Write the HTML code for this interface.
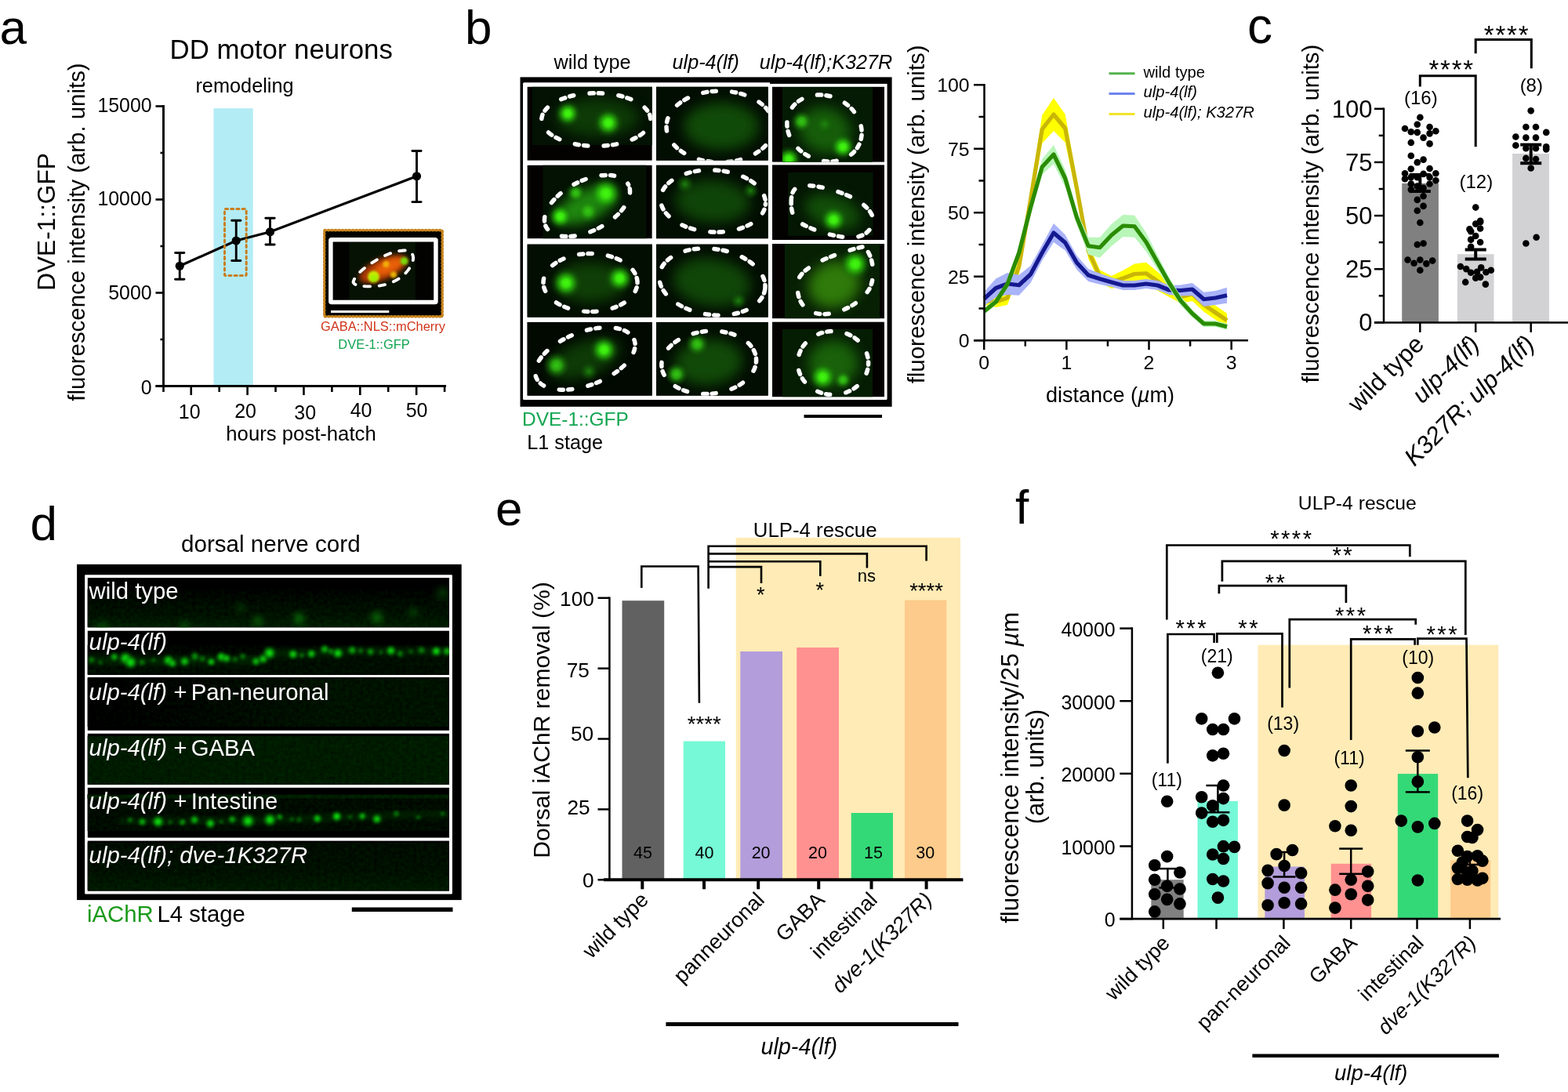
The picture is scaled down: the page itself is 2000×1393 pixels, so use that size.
<!DOCTYPE html>
<html lang="en">
<head>
<meta charset="utf-8">
<title>Figure</title>
<style>
html,body{margin:0;padding:0;background:#fff;}
body{width:2000px;height:1393px;overflow:hidden;}
svg{display:block;font-family:'Liberation Sans', 'DejaVu Sans', sans-serif;}
</style>
</head>
<body>
<svg width="2000" height="1393" viewBox="0 0 2000 1393">
<defs>
<filter id="blur1" x="-50%" y="-50%" width="200%" height="200%" color-interpolation-filters="sRGB"><feGaussianBlur stdDeviation="0.9"/></filter>
<filter id="blur2" x="-50%" y="-50%" width="200%" height="200%" color-interpolation-filters="sRGB"><feGaussianBlur stdDeviation="1.6"/></filter>
<filter id="blur3" x="-50%" y="-50%" width="200%" height="200%" color-interpolation-filters="sRGB"><feGaussianBlur stdDeviation="3"/></filter>
<filter id="blur4" x="-50%" y="-50%" width="200%" height="200%" color-interpolation-filters="sRGB"><feGaussianBlur stdDeviation="4"/></filter>
<filter id="blur8" x="-50%" y="-50%" width="200%" height="200%" color-interpolation-filters="sRGB"><feGaussianBlur stdDeviation="8"/></filter>
<filter id="blur6" x="-50%" y="-50%" width="200%" height="200%" color-interpolation-filters="sRGB"><feGaussianBlur stdDeviation="6"/></filter>
<filter id="noise" x="0" y="0" width="100%" height="100%" color-interpolation-filters="sRGB"><feTurbulence type="fractalNoise" baseFrequency="0.22" numOctaves="2" seed="3" result="n"/><feColorMatrix in="n" type="matrix" values="0 0 0 0 0  0 0.11 0 0 0  0 0 0 0 0  0 0 0 0 1" result="g"/><feComposite in="g" in2="SourceGraphic" operator="in" result="gm"/><feComposite in="SourceGraphic" in2="gm" operator="arithmetic" k1="0" k2="1" k3="1" k4="-0.055"/></filter>
<clipPath id="clipA"><rect x="424.6" y="308.4" width="128.5" height="74.6"/></clipPath>
<radialGradient id="sb"><stop offset="0" stop-color="#44f810"/><stop offset="0.25" stop-color="#3aea0e" stop-opacity="0.97"/><stop offset="0.55" stop-color="#28b80a" stop-opacity="0.6"/><stop offset="0.8" stop-color="#1a8008" stop-opacity="0.2"/><stop offset="1" stop-color="#1a8008" stop-opacity="0"/></radialGradient>
<radialGradient id="sm"><stop offset="0" stop-color="#34c814"/><stop offset="0.35" stop-color="#2cb010" stop-opacity="0.9"/><stop offset="0.65" stop-color="#208a0c" stop-opacity="0.45"/><stop offset="1" stop-color="#156008" stop-opacity="0"/></radialGradient>
<radialGradient id="sd"><stop offset="0" stop-color="#1f8a10" stop-opacity="0.9"/><stop offset="0.5" stop-color="#187008" stop-opacity="0.5"/><stop offset="1" stop-color="#105008" stop-opacity="0"/></radialGradient>


<linearGradient id="gd3" gradientUnits="userSpaceOnUse" x1="150" y1="880" x2="420" y2="930"><stop offset="0" stop-color="#000000"/><stop offset="0.45" stop-color="#000800"/><stop offset="1" stop-color="#001200"/></linearGradient>
<linearGradient id="gd2" x1="0" y1="0" x2="0" y2="1"><stop offset="0" stop-color="#000200"/><stop offset="0.5" stop-color="#000e00"/><stop offset="1" stop-color="#000c00"/></linearGradient>
<radialGradient id="pg"><stop offset="0" stop-color="#10e010"/><stop offset="0.3" stop-color="#0cc80c" stop-opacity="0.95"/><stop offset="0.6" stop-color="#089808" stop-opacity="0.55"/><stop offset="1" stop-color="#046004" stop-opacity="0"/></radialGradient>
<clipPath id="clipD1"><rect x="111.8" y="737.1" width="461.2" height="63.1"/></clipPath>
<clipPath id="clipD2"><rect x="111.8" y="804.7" width="461.2" height="56"/></clipPath>
<clipPath id="clipD5"><rect x="111.8" y="1004.8" width="461.2" height="63.8"/></clipPath>
<linearGradient id="gd1" x1="0" y1="0" x2="0" y2="1"><stop offset="0" stop-color="#000100"/><stop offset="0.3" stop-color="#000a00"/><stop offset="0.7" stop-color="#001200"/><stop offset="1" stop-color="#001e00"/></linearGradient>
<linearGradient id="gd6" x1="0" y1="0" x2="0" y2="1"><stop offset="0" stop-color="#000c00"/><stop offset="0.6" stop-color="#001000"/><stop offset="1" stop-color="#001a00"/></linearGradient>


</defs>
<rect x="0" y="0" width="2000" height="1393" fill="#fff"/>
<g>
<text x="-0.5" y="56" font-size="62">a</text>
<text x="358.7" y="74.8" font-size="34.8" text-anchor="middle">DD motor neurons</text>
<text x="312" y="117.7" font-size="25.3" text-anchor="middle">remodeling</text>
<text transform="translate(70,283) rotate(-90)" font-size="31.6" text-anchor="middle">DVE-1::GFP</text>
<text transform="translate(108,296) rotate(-90)" font-size="29.4" text-anchor="middle">fluorescence intensity (arb. units)</text>
<rect x="272.5" y="138.2" width="50.2" height="354.3" fill="#b3ecf4" />
<line x1="208.5" y1="134.1" x2="208.5" y2="493.9" stroke="#000" stroke-width="2.9" />
<line x1="198.5" y1="492.5" x2="569" y2="492.5" stroke="#000" stroke-width="2.9" />
<line x1="198.5" y1="492.5" x2="208.5" y2="492.5" stroke="#000" stroke-width="2.6" />
<text x="193.6" y="503.3" font-size="24.9" text-anchor="end">0</text>
<line x1="198.5" y1="373.5" x2="208.5" y2="373.5" stroke="#000" stroke-width="2.6" />
<text x="193.6" y="382.3" font-size="24.9" text-anchor="end">5000</text>
<line x1="198.5" y1="254.5" x2="208.5" y2="254.5" stroke="#000" stroke-width="2.6" />
<text x="193.6" y="262" font-size="24.9" text-anchor="end">10000</text>
<line x1="198.5" y1="135.5" x2="208.5" y2="135.5" stroke="#000" stroke-width="2.6" />
<text x="193.6" y="143.3" font-size="24.9" text-anchor="end">15000</text>
<line x1="204.5" y1="433" x2="208.5" y2="433" stroke="#000" stroke-width="2.6" />
<line x1="204.5" y1="314" x2="208.5" y2="314" stroke="#000" stroke-width="2.6" />
<line x1="204.5" y1="195" x2="208.5" y2="195" stroke="#000" stroke-width="2.6" />
<line x1="243.75" y1="492.5" x2="243.75" y2="504" stroke="#000" stroke-width="2.6" />
<text x="241.75" y="534.1" font-size="25" text-anchor="middle">10</text>
<line x1="315.6" y1="492.5" x2="315.6" y2="504" stroke="#000" stroke-width="2.6" />
<text x="313.1" y="532.8" font-size="25" text-anchor="middle">20</text>
<line x1="387.45" y1="492.5" x2="387.45" y2="504" stroke="#000" stroke-width="2.6" />
<text x="389.2" y="534.8" font-size="25" text-anchor="middle">30</text>
<line x1="459.3" y1="492.5" x2="459.3" y2="504" stroke="#000" stroke-width="2.6" />
<text x="460.55" y="532.3" font-size="25" text-anchor="middle">40</text>
<line x1="531.15" y1="492.5" x2="531.15" y2="504" stroke="#000" stroke-width="2.6" />
<text x="531.55" y="532.3" font-size="25" text-anchor="middle">50</text>
<line x1="208.5" y1="492.5" x2="208.5" y2="500" stroke="#000" stroke-width="2.6" />
<line x1="279.68" y1="492.5" x2="279.68" y2="500" stroke="#000" stroke-width="2.6" />
<line x1="351.52" y1="492.5" x2="351.52" y2="500" stroke="#000" stroke-width="2.6" />
<line x1="423.38" y1="492.5" x2="423.38" y2="500" stroke="#000" stroke-width="2.6" />
<line x1="495.22" y1="492.5" x2="495.22" y2="500" stroke="#000" stroke-width="2.6" />
<line x1="567.08" y1="492.5" x2="567.08" y2="500" stroke="#000" stroke-width="2.6" />
<text x="384" y="562.2" font-size="25.7" text-anchor="middle">hours post-hatch</text>
<polyline points="229.25,339.25 301.25,307 344.5,295.75 531.5,224.8" fill="none" stroke="#000" stroke-width="3.2"/>
<line x1="229.25" y1="322.5" x2="229.25" y2="356.25" stroke="#000" stroke-width="2.9" />
<line x1="223.65" y1="322.5" x2="234.85" y2="322.5" stroke="#000" stroke-width="2.9" stroke-linecap="round"/>
<line x1="223.65" y1="356.25" x2="234.85" y2="356.25" stroke="#000" stroke-width="2.9" stroke-linecap="round"/>
<circle cx="229.25" cy="339.25" r="5.6" fill="#000" />
<line x1="301.25" y1="281.25" x2="301.25" y2="332.5" stroke="#000" stroke-width="2.9" />
<line x1="295.65" y1="281.25" x2="306.85" y2="281.25" stroke="#000" stroke-width="2.9" stroke-linecap="round"/>
<line x1="295.65" y1="332.5" x2="306.85" y2="332.5" stroke="#000" stroke-width="2.9" stroke-linecap="round"/>
<circle cx="301.25" cy="307" r="5.6" fill="#000" />
<line x1="344.5" y1="278.25" x2="344.5" y2="312" stroke="#000" stroke-width="2.9" />
<line x1="338.9" y1="278.25" x2="350.1" y2="278.25" stroke="#000" stroke-width="2.9" stroke-linecap="round"/>
<line x1="338.9" y1="312" x2="350.1" y2="312" stroke="#000" stroke-width="2.9" stroke-linecap="round"/>
<circle cx="344.5" cy="295.75" r="5.6" fill="#000" />
<line x1="531.5" y1="192.5" x2="531.5" y2="257.6" stroke="#000" stroke-width="2.9" />
<line x1="525.9" y1="192.5" x2="537.1" y2="192.5" stroke="#000" stroke-width="2.9" stroke-linecap="round"/>
<line x1="525.9" y1="257.6" x2="537.1" y2="257.6" stroke="#000" stroke-width="2.9" stroke-linecap="round"/>
<circle cx="531.5" cy="224.8" r="5.6" fill="#000" />
<rect x="286.5" y="266.6" width="27.7" height="84.9" rx="1" fill="none" stroke="#c87d1e" stroke-width="3" stroke-dasharray="3.1 4.1" stroke-linecap="round"/>
<rect x="413" y="293.3" width="152" height="111.4" fill="#030000" />
<g clip-path="url(#clipA)">
<rect x="424" y="308" width="130" height="76" fill="#020201" />
<rect x="445.2" y="308" width="84.7" height="76" fill="#061204" />
<g filter="url(#blur3)">
<ellipse cx="489" cy="343" rx="33" ry="13.5" transform="rotate(-24 489 343)" fill="#b03a06"/>
<ellipse cx="496" cy="340" rx="20" ry="8.5" transform="rotate(-24 496 340)" fill="#e86008"/>
</g>
<g filter="url(#blur2)">
<circle cx="476.5" cy="353" r="7.5" fill="#c8ee00" />
<circle cx="476.5" cy="355" r="4.5" fill="#a0f000" />
<circle cx="515.6" cy="333" r="5" fill="#7ad808" />
<circle cx="492.4" cy="337" r="4.2" fill="#f0b008" />
<circle cx="502" cy="350.4" r="4.2" fill="#e8b408" />
</g>
</g>
<path d="M450.5 360 C452 351, 468 338, 485 329 C500 321, 515 317.5, 521.5 320.5 C530 324.5, 528 334, 521 344 C513 355, 498 363.5, 480 365 C465 366, 452 365, 450.5 360 Z" fill="none" stroke="#fff" stroke-width="3.9" stroke-dasharray="7.6 11.4" stroke-linecap="round" stroke-dashoffset="3"/>
<rect x="421.85" y="305.65" width="134.1" height="79.9" rx="1" fill="none" stroke="#fff" stroke-width="5.5"/>
<line x1="422" y1="397.5" x2="496.3" y2="397.5" stroke="#fff" stroke-width="3.2" />
<rect x="413.7" y="293.7" width="150.5" height="110.1" rx="1" fill="none" stroke="#c8841e" stroke-width="2.6"/>
<rect x="413.7" y="293.7" width="150.5" height="110.1" rx="1" fill="none" stroke="#c8841e" stroke-width="3.7" stroke-dasharray="0.1 4.33" stroke-linecap="round"/>
<text x="488.5" y="421.5" font-size="16.45" text-anchor="middle" fill="#d0341a">GABA::NLS::mCherry</text>
<text x="477" y="445.2" font-size="16.45" text-anchor="middle" fill="#12a450">DVE-1::GFP</text>
</g>
<g>
<text x="593" y="55.5" font-size="62">b</text>
<text x="755.5" y="87.6" font-size="25.2" text-anchor="middle">wild type</text>
<text x="900.3" y="87.6" font-size="25.2" text-anchor="middle" font-style="italic">ulp-4(lf)</text>
<text x="1053.5" y="87.6" font-size="25.2" text-anchor="middle" font-style="italic">ulp-4(lf);K327R</text>
<rect x="663.5" y="98.4" width="474.1" height="420.4" fill="#000" />
<rect x="667" y="105.2" width="464.6" height="404.8" rx="1.5" fill="#fff"/>
<rect x="982" y="104.5" width="150" height="2.4" fill="#000" />
<clipPath id="cb00"><rect x="672.4" y="110.6" width="159.4" height="94.2"/></clipPath>
<g clip-path="url(#cb00)">
<rect x="672.4" y="110.6" width="159.4" height="94.2" fill="#040101" />
<rect x="679" y="110.6" width="152.8" height="74.4" fill="#031203" />
<clipPath id="cb00i"><rect x="679" y="110.6" width="152.8" height="74.4"/></clipPath>
<g clip-path="url(#cb00i)">
<g filter="url(#blur8)">
<ellipse cx="762" cy="150" rx="52.8" ry="24" transform="rotate(0 762 150)" fill="#0d3a06" opacity="1"/>
</g>
<circle cx="724.2" cy="144.8" r="17" fill="url(#sb)"/>
<circle cx="775.8" cy="156.8" r="19" fill="url(#sb)"/>
</g>
<ellipse cx="760.3" cy="152.6" rx="69.5" ry="33.8" transform="rotate(0 760.3 152.6)" stroke="#fff" stroke-width="5.5" stroke-linecap="round" stroke-dasharray="5.2 6.2 5.2 20.4" fill="none" stroke-dashoffset="17"/>
</g>
<clipPath id="cb10"><rect x="837" y="110.6" width="142.8" height="94.2"/></clipPath>
<g clip-path="url(#cb10)">
<rect x="837" y="110.6" width="142.8" height="94.2" fill="#040101" />
<rect x="837" y="110.6" width="142.8" height="94.2" fill="#020e02" />
<clipPath id="cb10i"><rect x="837" y="110.6" width="142.8" height="94.2"/></clipPath>
<g clip-path="url(#cb10i)">
<g filter="url(#blur8)">
<ellipse cx="920" cy="161" rx="48" ry="30.4" transform="rotate(0 920 161)" fill="#104a08" opacity="1"/>
</g>
</g>
<ellipse cx="918.5" cy="161.5" rx="68.5" ry="45.5" transform="rotate(0 918.5 161.5)" stroke="#fff" stroke-width="5.5" stroke-linecap="round" stroke-dasharray="5.2 6.2 5.2 20.4" fill="none" stroke-dashoffset="10"/>
</g>
<clipPath id="cb20"><rect x="985" y="110.6" width="143" height="96.2"/></clipPath>
<g clip-path="url(#cb20)">
<rect x="985" y="110.6" width="143" height="96.2" fill="#040101" />
<rect x="997.8" y="111.2" width="115.2" height="95.6" fill="#051b04" />
<clipPath id="cb20i"><rect x="997.8" y="111.2" width="115.2" height="95.6"/></clipPath>
<g clip-path="url(#cb20i)">
<g filter="url(#blur8)">
<ellipse cx="1052" cy="166" rx="33.6" ry="28.8" transform="rotate(20 1052 166)" fill="#165d0a" opacity="1"/>
</g>
<circle cx="1022.4" cy="155" r="14" fill="url(#sm)"/>
<circle cx="1051.8" cy="158.6" r="13" fill="url(#sd)"/>
<circle cx="1075.2" cy="187.4" r="17" fill="url(#sb)"/>
<circle cx="1006" cy="203" r="17" fill="url(#sb)"/>
</g>
<ellipse cx="1051.5" cy="163.5" rx="49" ry="41" transform="rotate(25 1051.5 163.5)" stroke="#fff" stroke-width="5.5" stroke-linecap="round" stroke-dasharray="5.2 6.2 5.2 20.4" fill="none" stroke-dashoffset="0"/>
</g>
<clipPath id="cb01"><rect x="672.4" y="210.6" width="159.4" height="93.8"/></clipPath>
<g clip-path="url(#cb01)">
<rect x="672.4" y="210.6" width="159.4" height="93.8" fill="#040101" />
<rect x="692.4" y="210.6" width="132" height="93.8" fill="#031203" />
<clipPath id="cb01i"><rect x="692.4" y="210.6" width="132" height="93.8"/></clipPath>
<g clip-path="url(#cb01i)">
<g filter="url(#blur8)">
<ellipse cx="748" cy="262" rx="40" ry="19.2" transform="rotate(-25 748 262)" fill="#1f8a0f" opacity="1"/>
</g>
<circle cx="772.8" cy="246.8" r="22" fill="url(#sb)"/>
<circle cx="734.4" cy="246.2" r="13" fill="url(#sm)"/>
<circle cx="714.6" cy="276.2" r="17" fill="url(#sb)"/>
<circle cx="750" cy="269.6" r="15" fill="url(#sm)"/>
</g>
<ellipse cx="749" cy="262.5" rx="59" ry="32" transform="rotate(-27 749 262.5)" stroke="#fff" stroke-width="5.5" stroke-linecap="round" stroke-dasharray="5.2 6.2 5.2 20.4" fill="none" stroke-dashoffset="6"/>
</g>
<clipPath id="cb11"><rect x="837" y="210.6" width="142.8" height="93.8"/></clipPath>
<g clip-path="url(#cb11)">
<rect x="837" y="210.6" width="142.8" height="93.8" fill="#040101" />
<rect x="837" y="210.6" width="142.8" height="93.8" fill="#020e02" />
<clipPath id="cb11i"><rect x="837" y="210.6" width="142.8" height="93.8"/></clipPath>
<g clip-path="url(#cb11i)">
<g filter="url(#blur8)">
<ellipse cx="909" cy="257" rx="48" ry="27.2" transform="rotate(3 909 257)" fill="#0f4408" opacity="1"/>
</g>
<circle cx="957.6" cy="243.2" r="11" fill="url(#sd)"/>
<circle cx="873.6" cy="234.8" r="12" fill="url(#sd)"/>
</g>
<ellipse cx="909.5" cy="256.5" rx="67" ry="39.5" transform="rotate(3 909.5 256.5)" stroke="#fff" stroke-width="5.5" stroke-linecap="round" stroke-dasharray="5.2 6.2 5.2 20.4" fill="none" stroke-dashoffset="4"/>
</g>
<clipPath id="cb21"><rect x="985" y="210.2" width="143" height="96"/></clipPath>
<g clip-path="url(#cb21)">
<rect x="985" y="210.2" width="143" height="96" fill="#040101" />
<rect x="1005" y="219.8" width="108.6" height="81" fill="#041703" />
<clipPath id="cb21i"><rect x="1005" y="219.8" width="108.6" height="81"/></clipPath>
<g clip-path="url(#cb21i)">
<g filter="url(#blur8)">
<ellipse cx="1062" cy="270" rx="36.8" ry="20" transform="rotate(18 1062 270)" fill="#124f09" opacity="1"/>
</g>
<circle cx="1063.2" cy="280.4" r="18" fill="url(#sb)"/>
</g>
<path d="M1009.2 257 C1009.5 242,1015 236,1030 236.5 C1050 237.5,1078 246,1095 256.5 C1108 265,1115 275,1113.5 283 C1111 296,1100 303,1085 303 C1065 302.5,1035 294,1018 282.5 C1011 277,1009 268,1009.2 257 Z" stroke="#fff" stroke-width="5.5" stroke-linecap="round" stroke-dasharray="5.2 6.2 5.2 20.4" fill="none" stroke-dashoffset="0"/>
</g>
<clipPath id="cb02"><rect x="672.4" y="311.4" width="159.4" height="93.4"/></clipPath>
<g clip-path="url(#cb02)">
<rect x="672.4" y="311.4" width="159.4" height="93.4" fill="#040101" />
<rect x="672.4" y="311.4" width="159.4" height="93.4" fill="#020e02" />
<clipPath id="cb02i"><rect x="672.4" y="311.4" width="159.4" height="93.4"/></clipPath>
<g clip-path="url(#cb02i)">
<g filter="url(#blur8)">
<ellipse cx="753" cy="360" rx="44.8" ry="25.6" transform="rotate(0 753 360)" fill="#0f3f06" opacity="1"/>
</g>
<circle cx="722" cy="361" r="20" fill="url(#sb)"/>
<circle cx="790.5" cy="355" r="19" fill="url(#sb)"/>
</g>
<ellipse cx="753" cy="360.5" rx="60" ry="37" transform="rotate(0 753 360.5)" stroke="#fff" stroke-width="5.5" stroke-linecap="round" stroke-dasharray="5.2 6.2 5.2 20.4" fill="none" stroke-dashoffset="5"/>
</g>
<clipPath id="cb12"><rect x="837" y="311.4" width="142.8" height="93.4"/></clipPath>
<g clip-path="url(#cb12)">
<rect x="837" y="311.4" width="142.8" height="93.4" fill="#040101" />
<rect x="837" y="311.4" width="142.8" height="93.4" fill="#020e02" />
<clipPath id="cb12i"><rect x="837" y="311.4" width="142.8" height="93.4"/></clipPath>
<g clip-path="url(#cb12i)">
<g filter="url(#blur8)">
<ellipse cx="908" cy="360" rx="49.6" ry="30.4" transform="rotate(8 908 360)" fill="#104608" opacity="1"/>
</g>
<circle cx="942" cy="383.8" r="11" fill="url(#sd)"/>
</g>
<ellipse cx="908.4" cy="359.5" rx="68" ry="42" transform="rotate(8 908.4 359.5)" stroke="#fff" stroke-width="5.5" stroke-linecap="round" stroke-dasharray="5.2 6.2 5.2 20.4" fill="none" stroke-dashoffset="0"/>
</g>
<clipPath id="cb22"><rect x="985" y="311" width="143" height="95.4"/></clipPath>
<g clip-path="url(#cb22)">
<rect x="985" y="311" width="143" height="95.4" fill="#040101" />
<rect x="1000.8" y="311" width="121.2" height="95.4" fill="#072004" />
<clipPath id="cb22i"><rect x="1000.8" y="311" width="121.2" height="95.4"/></clipPath>
<g clip-path="url(#cb22i)">
<g filter="url(#blur8)">
<ellipse cx="1064" cy="363" rx="33.6" ry="28.8" transform="rotate(-20 1064 363)" fill="#2f7a0a" opacity="1"/>
</g>
<circle cx="1090.8" cy="336.8" r="21" fill="url(#sb)"/>
</g>
<path d="M1100 315 C1085 318,1055 328,1040 336.5 C1025 345,1017 353,1017 364 C1017 378,1021 388,1030 395 C1040 402,1055 402,1068 398 C1085 393,1100 382,1108 370 C1115 359,1115 340,1110 327 C1107 320,1104 315,1100 315 Z" stroke="#fff" stroke-width="5.5" stroke-linecap="round" stroke-dasharray="5.2 6.2 5.2 20.4" fill="none" stroke-dashoffset="0"/>
</g>
<clipPath id="cb03"><rect x="672.4" y="410.8" width="159.4" height="94"/></clipPath>
<g clip-path="url(#cb03)">
<rect x="672.4" y="410.8" width="159.4" height="94" fill="#040101" />
<rect x="672.4" y="410.8" width="159.4" height="94" fill="#010901" />
<clipPath id="cb03i"><rect x="672.4" y="410.8" width="159.4" height="94"/></clipPath>
<g clip-path="url(#cb03i)">
<g filter="url(#blur8)">
<ellipse cx="746" cy="458" rx="48" ry="22.4" transform="rotate(-20 746 458)" fill="#0d3a06" opacity="1"/>
</g>
<circle cx="770.4" cy="446.2" r="19" fill="url(#sb)"/>
<circle cx="709.8" cy="466" r="17" fill="url(#sm)"/>
<circle cx="751.2" cy="473.8" r="12" fill="url(#sd)"/>
</g>
<ellipse cx="746.4" cy="457.5" rx="67" ry="34" transform="rotate(-21 746.4 457.5)" stroke="#fff" stroke-width="5.5" stroke-linecap="round" stroke-dasharray="5.2 6.2 5.2 20.4" fill="none" stroke-dashoffset="0"/>
</g>
<clipPath id="cb13"><rect x="837" y="410.8" width="142.8" height="94"/></clipPath>
<g clip-path="url(#cb13)">
<rect x="837" y="410.8" width="142.8" height="94" fill="#040101" />
<rect x="837" y="410.8" width="142.8" height="94" fill="#020e02" />
<clipPath id="cb13i"><rect x="837" y="410.8" width="142.8" height="94"/></clipPath>
<g clip-path="url(#cb13i)">
<g filter="url(#blur8)">
<ellipse cx="904" cy="462" rx="43.2" ry="28.8" transform="rotate(-5 904 462)" fill="#114a08" opacity="1"/>
</g>
<circle cx="889.2" cy="439" r="15" fill="url(#sm)"/>
<circle cx="862.8" cy="477.4" r="15" fill="url(#sm)"/>
</g>
<ellipse cx="904.2" cy="462.4" rx="60.5" ry="40" transform="rotate(-5 904.2 462.4)" stroke="#fff" stroke-width="5.5" stroke-linecap="round" stroke-dasharray="5.2 6.2 5.2 20.4" fill="none" stroke-dashoffset="0"/>
</g>
<clipPath id="cb23"><rect x="985" y="410.4" width="143" height="96"/></clipPath>
<g clip-path="url(#cb23)">
<rect x="985" y="410.4" width="143" height="96" fill="#040101" />
<rect x="997.8" y="419.8" width="115.2" height="86.6" fill="#051d03" />
<clipPath id="cb23i"><rect x="997.8" y="419.8" width="115.2" height="86.6"/></clipPath>
<g clip-path="url(#cb23i)">
<g filter="url(#blur8)">
<ellipse cx="1063" cy="463" rx="32" ry="28.8" transform="rotate(0 1063 463)" fill="#19610a" opacity="1"/>
</g>
<circle cx="1049.4" cy="481" r="19" fill="url(#sb)"/>
<circle cx="1075.2" cy="484.6" r="12" fill="url(#sm)"/>
</g>
<ellipse cx="1062.6" cy="463" rx="45" ry="40.5" transform="rotate(0 1062.6 463)" stroke="#fff" stroke-width="5.5" stroke-linecap="round" stroke-dasharray="5.2 6.2 5.2 20.4" fill="none" stroke-dashoffset="3"/>
</g>
<text x="666" y="543.2" font-size="24.45" fill="#12a551">DVE-1::GFP</text>
<text x="672.3" y="573.3" font-size="25.2">L1 stage</text>
<line x1="1025.5" y1="531" x2="1125" y2="531" stroke="#000" stroke-width="4.2" />
<text transform="translate(1178.5,273.4) rotate(-90)" font-size="29.45" text-anchor="middle">fluorescence intensity (arb. units)</text>
<polygon points="1255.5,378.75 1270.24,378 1284.98,371 1299.72,330 1314.46,243 1329.2,147 1343.94,125 1358.68,145.75 1373.42,228 1388.16,310 1402.9,344.5 1417.64,352 1432.38,345 1447.12,336.5 1461.86,334.75 1476.6,346.75 1491.34,361 1506.08,370.75 1520.82,366 1535.56,379.75 1550.3,389.75 1565.04,399.75 1565.04,417.75 1550.3,407.75 1535.56,397.75 1520.82,384 1506.08,386.75 1491.34,379 1476.6,370.75 1461.86,362.75 1447.12,362.5 1432.38,365 1417.64,368 1402.9,360.5 1388.16,330 1373.42,252 1358.68,181.75 1343.94,167 1329.2,183 1314.46,267 1299.72,350 1284.98,389 1270.24,392 1255.5,388.75" fill="#ffff00"/>
<polyline points="1255.5,383.75 1270.24,385 1284.98,380 1299.72,340 1314.46,255 1329.2,165 1343.94,146 1358.68,163.75 1373.42,240 1388.16,320 1402.9,352.5 1417.64,360 1432.38,355 1447.12,349.5 1461.86,348.75 1476.6,358.75 1491.34,370 1506.08,378.75 1520.82,375 1535.56,388.75 1550.3,398.75 1565.04,408.75" fill="none" stroke="#c9b607" stroke-width="5.2" stroke-linejoin="round" stroke-linecap="butt"/>
<polygon points="1255.5,372 1270.24,355.5 1284.98,348 1299.72,350.75 1314.46,339 1329.2,312.5 1343.94,285 1358.68,299.5 1373.42,326 1388.16,343 1402.9,348.75 1417.64,354 1432.38,358 1447.12,358 1461.86,356 1476.6,358 1491.34,364 1506.08,363.5 1520.82,361 1535.56,372.75 1550.3,371 1565.04,366.75 1565.04,386.75 1550.3,389 1535.56,390.75 1520.82,377 1506.08,377.5 1491.34,376 1476.6,370 1461.86,368 1447.12,370 1432.38,370 1417.64,366 1402.9,362.75 1388.16,359 1373.42,344 1358.68,319.5 1343.94,309 1329.2,332.5 1314.46,361 1299.72,376.75 1284.98,376 1270.24,379.5 1255.5,390" fill="#a9b3f9"/>
<polyline points="1255.5,381 1270.24,367.5 1284.98,362 1299.72,363.75 1314.46,350 1329.2,322.5 1343.94,297 1358.68,309.5 1373.42,335 1388.16,351 1402.9,355.75 1417.64,360 1432.38,364 1447.12,364 1461.86,362 1476.6,364 1491.34,370 1506.08,370.5 1520.82,369 1535.56,381.75 1550.3,380 1565.04,376.75" fill="none" stroke="#15198f" stroke-width="5.2" stroke-linejoin="round" stroke-linecap="butt"/>
<polygon points="1255.5,393 1270.24,381 1284.98,357.5 1299.72,316.5 1314.46,257 1329.2,203 1343.94,185 1358.68,216.5 1373.42,268.5 1388.16,302.75 1402.9,302.75 1417.64,286 1432.38,274 1447.12,274.75 1461.86,296.75 1476.6,326 1491.34,354 1506.08,377.75 1520.82,395 1535.56,409 1550.3,409 1565.04,412.75 1565.04,420.75 1550.3,417 1535.56,417 1520.82,405 1506.08,389.75 1491.34,368 1476.6,344 1461.86,320.75 1447.12,302.75 1432.38,302 1417.64,314 1402.9,328.75 1388.16,324.75 1373.42,286.5 1358.68,238.5 1343.94,209 1329.2,223 1314.46,273 1299.72,328.5 1284.98,367.5 1270.24,389 1255.5,401" fill="#b9f6b9"/>
<polyline points="1255.5,397 1270.24,385 1284.98,362.5 1299.72,322.5 1314.46,265 1329.2,213 1343.94,197 1358.68,227.5 1373.42,277.5 1388.16,313.75 1402.9,315.75 1417.64,300 1432.38,288 1447.12,288.75 1461.86,308.75 1476.6,335 1491.34,361 1506.08,383.75 1520.82,400 1535.56,413 1550.3,413 1565.04,416.75" fill="none" stroke="#2a8c02" stroke-width="5.2" stroke-linejoin="round" stroke-linecap="butt"/>
<line x1="1255.5" y1="107" x2="1255.5" y2="435.5" stroke="#000" stroke-width="2.5" />
<line x1="1242" y1="434.25" x2="1592" y2="434.25" stroke="#000" stroke-width="2.5" />
<line x1="1242" y1="434.25" x2="1255.5" y2="434.25" stroke="#000" stroke-width="2.5" />
<text x="1236.6" y="443.45" font-size="24.8" text-anchor="end">0</text>
<line x1="1242" y1="352.75" x2="1255.5" y2="352.75" stroke="#000" stroke-width="2.5" />
<text x="1236.6" y="361.95" font-size="24.8" text-anchor="end">25</text>
<line x1="1242" y1="271.25" x2="1255.5" y2="271.25" stroke="#000" stroke-width="2.5" />
<text x="1236.6" y="280.45" font-size="24.8" text-anchor="end">50</text>
<line x1="1242" y1="189.75" x2="1255.5" y2="189.75" stroke="#000" stroke-width="2.5" />
<text x="1236.6" y="198.95" font-size="24.8" text-anchor="end">75</text>
<line x1="1242" y1="108.25" x2="1255.5" y2="108.25" stroke="#000" stroke-width="2.5" />
<text x="1236.6" y="117.45" font-size="24.8" text-anchor="end">100</text>
<line x1="1248.5" y1="393.5" x2="1255.5" y2="393.5" stroke="#000" stroke-width="2.5" />
<line x1="1248.5" y1="312" x2="1255.5" y2="312" stroke="#000" stroke-width="2.5" />
<line x1="1248.5" y1="230.5" x2="1255.5" y2="230.5" stroke="#000" stroke-width="2.5" />
<line x1="1248.5" y1="149" x2="1255.5" y2="149" stroke="#000" stroke-width="2.5" />
<line x1="1255.2" y1="434.25" x2="1255.2" y2="446.25" stroke="#000" stroke-width="2.5" />
<text x="1255.2" y="470.8" font-size="24.8" text-anchor="middle">0</text>
<line x1="1360.35" y1="434.25" x2="1360.35" y2="446.25" stroke="#000" stroke-width="2.5" />
<text x="1360.35" y="470.8" font-size="24.8" text-anchor="middle">1</text>
<line x1="1465.5" y1="434.25" x2="1465.5" y2="446.25" stroke="#000" stroke-width="2.5" />
<text x="1465.5" y="470.8" font-size="24.8" text-anchor="middle">2</text>
<line x1="1570.65" y1="434.25" x2="1570.65" y2="446.25" stroke="#000" stroke-width="2.5" />
<text x="1570.65" y="470.8" font-size="24.8" text-anchor="middle">3</text>
<line x1="1307.78" y1="434.25" x2="1307.78" y2="441.75" stroke="#000" stroke-width="2.5" />
<line x1="1412.93" y1="434.25" x2="1412.93" y2="441.75" stroke="#000" stroke-width="2.5" />
<line x1="1518.08" y1="434.25" x2="1518.08" y2="441.75" stroke="#000" stroke-width="2.5" />
<text x="1416" y="512.5" font-size="27" text-anchor="middle">distance (<tspan font-style="italic">µ</tspan>m)</text>
<line x1="1414.5" y1="93.75" x2="1447.5" y2="93.75" stroke="#55b34d" stroke-width="3.2" />
<line x1="1414.5" y1="119.5" x2="1447.5" y2="119.5" stroke="#6f83f0" stroke-width="3.2" />
<line x1="1414.5" y1="145.5" x2="1447.5" y2="145.5" stroke="#f2e329" stroke-width="3.2" />
<text x="1458.5" y="98.75" font-size="20.2">wild type</text>
<text x="1458.5" y="123.75" font-size="20.2" font-style="italic">ulp-4(lf)</text>
<text x="1458.5" y="150" font-size="20.2" font-style="italic">ulp-4(lf); K327R</text>
</g>
<g>
<text x="1591" y="55" font-size="64">c</text>
<text transform="translate(1682,272.6) rotate(-90)" font-size="29.45" text-anchor="middle">fluorescence intensity (arb. units)</text>
<rect x="1788.2" y="233.9" width="46.7" height="177.5" fill="#808080" />
<rect x="1858.9" y="324.2" width="46.6" height="87.2" fill="#d2d2d4" />
<rect x="1929.1" y="196" width="46.9" height="215.4" fill="#d2d2d4" />
<line x1="1811.3" y1="222.9" x2="1811.3" y2="244" stroke="#000" stroke-width="4" />
<line x1="1797.8" y1="222.9" x2="1824.8" y2="222.9" stroke="#000" stroke-width="4" />
<line x1="1797.8" y1="244" x2="1824.8" y2="244" stroke="#000" stroke-width="4" />
<line x1="1882.2" y1="318.5" x2="1882.2" y2="330.5" stroke="#000" stroke-width="4" />
<line x1="1868.7" y1="318.5" x2="1895.7" y2="318.5" stroke="#000" stroke-width="4" />
<line x1="1868.7" y1="330.5" x2="1895.7" y2="330.5" stroke="#000" stroke-width="4" />
<line x1="1952.7" y1="184.6" x2="1952.7" y2="208.2" stroke="#000" stroke-width="4" />
<line x1="1939.2" y1="184.6" x2="1966.2" y2="184.6" stroke="#000" stroke-width="4" />
<line x1="1939.2" y1="208.2" x2="1966.2" y2="208.2" stroke="#000" stroke-width="4" />
<circle cx="1811.35" cy="149.74" r="4.3" fill="#000" />
<circle cx="1807.77" cy="158.79" r="4.3" fill="#000" />
<circle cx="1823.55" cy="161.94" r="4.3" fill="#000" />
<circle cx="1792" cy="164.05" r="4.3" fill="#000" />
<circle cx="1831.33" cy="167.2" r="4.3" fill="#000" />
<circle cx="1799.78" cy="168.25" r="4.3" fill="#000" />
<circle cx="1807.77" cy="168.88" r="4.3" fill="#000" />
<circle cx="1823.55" cy="170.36" r="4.3" fill="#000" />
<circle cx="1815.55" cy="175.61" r="4.3" fill="#000" />
<circle cx="1799.78" cy="181.92" r="4.3" fill="#000" />
<circle cx="1823.55" cy="183.4" r="4.3" fill="#000" />
<circle cx="1799.78" cy="198.75" r="4.3" fill="#000" />
<circle cx="1815.55" cy="203.59" r="4.3" fill="#000" />
<circle cx="1807.77" cy="207.16" r="4.3" fill="#000" />
<circle cx="1799.78" cy="215.57" r="4.3" fill="#000" />
<circle cx="1823.55" cy="214.94" r="4.3" fill="#000" />
<circle cx="1792" cy="221.25" r="4.3" fill="#000" />
<circle cx="1831.33" cy="221.25" r="4.3" fill="#000" />
<circle cx="1815.55" cy="221.88" r="4.3" fill="#000" />
<circle cx="1799.78" cy="226.09" r="4.3" fill="#000" />
<circle cx="1807.77" cy="226.09" r="4.3" fill="#000" />
<circle cx="1823.55" cy="226.09" r="4.3" fill="#000" />
<circle cx="1792" cy="228.19" r="4.3" fill="#000" />
<circle cx="1831.33" cy="230.3" r="4.3" fill="#000" />
<circle cx="1799.78" cy="234.5" r="4.3" fill="#000" />
<circle cx="1823.55" cy="234.5" r="4.3" fill="#000" />
<circle cx="1807.77" cy="237.66" r="4.3" fill="#000" />
<circle cx="1815.55" cy="239.76" r="4.3" fill="#000" />
<circle cx="1799.78" cy="241.86" r="4.3" fill="#000" />
<circle cx="1815.55" cy="250.28" r="4.3" fill="#000" />
<circle cx="1807.77" cy="254.9" r="4.3" fill="#000" />
<circle cx="1815.55" cy="262.89" r="4.3" fill="#000" />
<circle cx="1807.77" cy="268.78" r="4.3" fill="#000" />
<circle cx="1811.35" cy="283.93" r="4.3" fill="#000" />
<circle cx="1807.77" cy="311.97" r="4.3" fill="#000" />
<circle cx="1815.55" cy="310.5" r="4.3" fill="#000" />
<circle cx="1795.57" cy="331.53" r="4.3" fill="#000" />
<circle cx="1803.57" cy="335.73" r="4.3" fill="#000" />
<circle cx="1811.35" cy="331.53" r="4.3" fill="#000" />
<circle cx="1819.34" cy="336.36" r="4.3" fill="#000" />
<circle cx="1827.12" cy="332.58" r="4.3" fill="#000" />
<circle cx="1811.35" cy="344.78" r="4.3" fill="#000" />
<circle cx="1882.22" cy="264.58" r="4.3" fill="#000" />
<circle cx="1888.11" cy="281.82" r="4.3" fill="#000" />
<circle cx="1882.22" cy="285.61" r="4.3" fill="#000" />
<circle cx="1874.44" cy="292.34" r="4.3" fill="#000" />
<circle cx="1888.11" cy="283.15" r="4.3" fill="#000" />
<circle cx="1888.11" cy="291.57" r="4.3" fill="#000" />
<circle cx="1876.12" cy="295.14" r="4.3" fill="#000" />
<circle cx="1882.22" cy="301.03" r="4.3" fill="#000" />
<circle cx="1876.12" cy="305.66" r="4.3" fill="#000" />
<circle cx="1888.11" cy="309.02" r="4.3" fill="#000" />
<circle cx="1876.12" cy="314.7" r="4.3" fill="#000" />
<circle cx="1862.87" cy="339.94" r="4.3" fill="#000" />
<circle cx="1870.24" cy="343.09" r="4.3" fill="#000" />
<circle cx="1889.16" cy="341.41" r="4.3" fill="#000" />
<circle cx="1901.78" cy="344.78" r="4.3" fill="#000" />
<circle cx="1876.12" cy="347.72" r="4.3" fill="#000" />
<circle cx="1883.91" cy="346.88" r="4.3" fill="#000" />
<circle cx="1895.47" cy="347.3" r="4.3" fill="#000" />
<circle cx="1882.22" cy="354.66" r="4.3" fill="#000" />
<circle cx="1888.11" cy="353.61" r="4.3" fill="#000" />
<circle cx="1869.18" cy="359.92" r="4.3" fill="#000" />
<circle cx="1894.84" cy="362.65" r="4.3" fill="#000" />
<circle cx="1952.68" cy="141.33" r="4.3" fill="#000" />
<circle cx="1946.37" cy="161.94" r="4.3" fill="#000" />
<circle cx="1958.99" cy="161.94" r="4.3" fill="#000" />
<circle cx="1972.24" cy="168.88" r="4.3" fill="#000" />
<circle cx="1933.33" cy="174.56" r="4.3" fill="#000" />
<circle cx="1946.37" cy="175.61" r="4.3" fill="#000" />
<circle cx="1958.99" cy="175.61" r="4.3" fill="#000" />
<circle cx="1933.33" cy="185.5" r="4.3" fill="#000" />
<circle cx="1972.24" cy="187.18" r="4.3" fill="#000" />
<circle cx="1946.37" cy="189.28" r="4.3" fill="#000" />
<circle cx="1958.99" cy="189.28" r="4.3" fill="#000" />
<circle cx="1972.24" cy="190.34" r="4.3" fill="#000" />
<circle cx="1946.37" cy="201.9" r="4.3" fill="#000" />
<circle cx="1958.99" cy="202.95" r="4.3" fill="#000" />
<circle cx="1952.68" cy="214.52" r="4.3" fill="#000" />
<circle cx="1946.37" cy="310.5" r="4.3" fill="#000" />
<circle cx="1959.62" cy="302.71" r="4.3" fill="#000" />
<line x1="1765" y1="137.55" x2="1765" y2="412.65" stroke="#000" stroke-width="2.5" />
<line x1="1752.9" y1="411.4" x2="2000" y2="411.4" stroke="#000" stroke-width="2.5" />
<line x1="1752.9" y1="411.4" x2="1765" y2="411.4" stroke="#000" stroke-width="2.5" />
<text x="1750.6" y="422.3" font-size="31" text-anchor="end">0</text>
<line x1="1752.9" y1="343.25" x2="1765" y2="343.25" stroke="#000" stroke-width="2.5" />
<text x="1750.6" y="354.15" font-size="31" text-anchor="end">25</text>
<line x1="1752.9" y1="275.1" x2="1765" y2="275.1" stroke="#000" stroke-width="2.5" />
<text x="1750.6" y="286" font-size="31" text-anchor="end">50</text>
<line x1="1752.9" y1="206.95" x2="1765" y2="206.95" stroke="#000" stroke-width="2.5" />
<text x="1750.6" y="217.85" font-size="31" text-anchor="end">75</text>
<line x1="1752.9" y1="138.8" x2="1765" y2="138.8" stroke="#000" stroke-width="2.5" />
<text x="1750.6" y="149.7" font-size="31" text-anchor="end">100</text>
<line x1="1758.7" y1="377.32" x2="1765" y2="377.32" stroke="#000" stroke-width="2.5" />
<line x1="1758.7" y1="309.17" x2="1765" y2="309.17" stroke="#000" stroke-width="2.5" />
<line x1="1758.7" y1="241.02" x2="1765" y2="241.02" stroke="#000" stroke-width="2.5" />
<line x1="1758.7" y1="172.87" x2="1765" y2="172.87" stroke="#000" stroke-width="2.5" />
<line x1="1811.3" y1="411.4" x2="1811.3" y2="423.9" stroke="#000" stroke-width="2.5" />
<line x1="1882.2" y1="411.4" x2="1882.2" y2="423.9" stroke="#000" stroke-width="2.5" />
<line x1="1952.7" y1="411.4" x2="1952.7" y2="423.9" stroke="#000" stroke-width="2.5" />
<text x="1812.3" y="132.9" font-size="24" text-anchor="middle">(16)</text>
<text x="1882.8" y="239.9" font-size="24" text-anchor="middle">(12)</text>
<text x="1953.3" y="116.8" font-size="24" text-anchor="middle">(8)</text>
<path d="M1811.3 110.4 V96.7 H1882.2 V187.2" stroke="#000" stroke-width="3" fill="none" />
<path d="M1882.2 68.3 V50.5 H1953.3 V87.3" stroke="#000" stroke-width="3" fill="none" />
<text x="1851.7" y="99.6" font-size="33" text-anchor="middle" letter-spacing="1.8">****</text>
<text x="1922.1" y="56.4" font-size="33" text-anchor="middle" letter-spacing="1.8">****</text>
<text transform="translate(1818,441) rotate(-45)" font-size="31.3" text-anchor="end">wild type</text>
<text transform="translate(1889,441) rotate(-45)" font-size="31.3" text-anchor="end" font-style="italic">ulp-4(lf)</text>
<text transform="translate(1959,441) rotate(-45)" font-size="31.3" text-anchor="end" font-style="italic">K327R; ulp-4(lf)</text>
</g>
<g>
<text x="38.5" y="689" font-size="62">d</text>
<text x="345.3" y="703.7" font-size="29.6" text-anchor="middle">dorsal nerve cord</text>
<rect x="98.1" y="719.9" width="490.6" height="428.2" fill="#000" />
<rect x="108.2" y="733.2" width="468.7" height="407.2" rx="1" fill="#fff"/>
<rect x="111.8" y="737.1" width="461.2" height="63.1" fill="#000" />
<rect x="111.8" y="804.7" width="461.2" height="56" fill="#000" />
<rect x="111.8" y="864.4" width="461.2" height="67.4" fill="#000" />
<rect x="111.8" y="935.8" width="461.2" height="65.1" fill="#000" />
<rect x="111.8" y="1004.8" width="461.2" height="63.8" fill="#000" />
<rect x="111.8" y="1072.6" width="461.2" height="64.1" fill="#000" />
<g filter="url(#noise)">
<rect x="111.8" y="751.1" width="461.2" height="49.1" fill="url(#gd1)" />
<rect x="111.8" y="822.7" width="461.2" height="38" fill="url(#gd2)" />
<rect x="111.8" y="864.4" width="461.2" height="62.6" fill="url(#gd3)" />
<rect x="111.8" y="938.6" width="461.2" height="62.3" fill="#001b00" />
<rect x="111.8" y="1012.6" width="461.2" height="47.5" fill="#000b00" />
<rect x="111.8" y="1014" width="461.2" height="4.5" fill="#001f00" />
<rect x="111.8" y="1074.5" width="461.2" height="61.2" fill="url(#gd6)" />
</g>
<g clip-path="url(#clipD1)"><g filter="url(#blur4)">
<circle cx="328.76" cy="792.14" r="6" fill="#0a7008" opacity="0.8"/>
<circle cx="381.49" cy="789.03" r="7" fill="#0a7008" opacity="0.9"/>
<circle cx="480.74" cy="787.48" r="7" fill="#0a7008" opacity="0.9"/>
<circle cx="307.05" cy="775.08" r="5" fill="#0a7008" opacity="0.5"/>
<circle cx="235.72" cy="798.34" r="6" fill="#0a7008" opacity="0.6"/>
<circle cx="130.27" cy="799.89" r="7" fill="#0a7008" opacity="0.5"/>
<circle cx="527.26" cy="781.28" r="6" fill="#0a7008" opacity="0.5"/>
<circle cx="564.48" cy="756.47" r="8" fill="#0a7008" opacity="0.4"/>
</g></g>
<g clip-path="url(#clipD2)"><g filter="url(#blur1)">
<path d="M112 842 L160 842 L215 844 L270 842 L330 842 L345 833 L400 833 L450 830 L560 831 L574 831" stroke="#004000" stroke-width="10" fill="none" opacity="0.5" filter="url(#blur3)"/>
<circle cx="145.9" cy="837.9" r="6.88" fill="url(#pg)" opacity="0.75"/>
<circle cx="160.2" cy="839.8" r="10" fill="url(#pg)" opacity="1"/>
<circle cx="166.7" cy="845" r="10" fill="url(#pg)" opacity="1"/>
<circle cx="116.7" cy="841.8" r="6.25" fill="url(#pg)" opacity="0.45"/>
<circle cx="128" cy="845" r="5" fill="url(#pg)" opacity="0.3"/>
<circle cx="181" cy="845" r="6.25" fill="url(#pg)" opacity="0.45"/>
<circle cx="196" cy="842" r="5" fill="url(#pg)" opacity="0.3"/>
<circle cx="214.8" cy="842.4" r="8.75" fill="url(#pg)" opacity="0.95"/>
<circle cx="220" cy="846.3" r="7.5" fill="url(#pg)" opacity="0.8"/>
<circle cx="235.6" cy="843.7" r="8.12" fill="url(#pg)" opacity="0.85"/>
<circle cx="248.6" cy="837.2" r="7.5" fill="url(#pg)" opacity="0.6"/>
<circle cx="258" cy="840" r="6.25" fill="url(#pg)" opacity="0.4"/>
<circle cx="269.4" cy="844.4" r="6.88" fill="url(#pg)" opacity="0.85"/>
<circle cx="282.4" cy="837.9" r="8.12" fill="url(#pg)" opacity="0.95"/>
<circle cx="288.9" cy="839.8" r="7.5" fill="url(#pg)" opacity="0.8"/>
<circle cx="300" cy="841" r="5.62" fill="url(#pg)" opacity="0.35"/>
<circle cx="309.7" cy="837.2" r="6.25" fill="url(#pg)" opacity="0.45"/>
<circle cx="326.6" cy="843.7" r="7.5" fill="url(#pg)" opacity="0.8"/>
<circle cx="335.7" cy="840.5" r="8.12" fill="url(#pg)" opacity="0.85"/>
<circle cx="343.7" cy="833" r="10" fill="url(#pg)" opacity="1"/>
<circle cx="373.8" cy="834.6" r="8.12" fill="url(#pg)" opacity="0.9"/>
<circle cx="385" cy="836" r="5.62" fill="url(#pg)" opacity="0.4"/>
<circle cx="397.2" cy="834" r="7.5" fill="url(#pg)" opacity="0.85"/>
<circle cx="414.1" cy="828.1" r="7.5" fill="url(#pg)" opacity="0.75"/>
<circle cx="422" cy="831" r="6.25" fill="url(#pg)" opacity="0.5"/>
<circle cx="431" cy="833.3" r="8.75" fill="url(#pg)" opacity="0.95"/>
<circle cx="449.2" cy="829.4" r="7.5" fill="url(#pg)" opacity="0.7"/>
<circle cx="460" cy="830" r="5.62" fill="url(#pg)" opacity="0.4"/>
<circle cx="472.6" cy="831.4" r="6.88" fill="url(#pg)" opacity="0.6"/>
<circle cx="486" cy="832" r="5" fill="url(#pg)" opacity="0.3"/>
<circle cx="498.6" cy="830.1" r="8.12" fill="url(#pg)" opacity="0.9"/>
<circle cx="510.3" cy="834" r="6.25" fill="url(#pg)" opacity="0.5"/>
<circle cx="524" cy="831" r="5" fill="url(#pg)" opacity="0.3"/>
<circle cx="537.6" cy="829.4" r="6.88" fill="url(#pg)" opacity="0.5"/>
<circle cx="556.5" cy="830.7" r="8.12" fill="url(#pg)" opacity="0.95"/>
<circle cx="570.1" cy="830.7" r="7.5" fill="url(#pg)" opacity="0.75"/>
</g></g>
<g clip-path="url(#clipD5)"><g filter="url(#blur1)">
<path d="M150 1048 L300 1047 L400 1044 L500 1040 L574 1038" stroke="#003a00" stroke-width="9" fill="none" opacity="0.5" filter="url(#blur3)"/>
<circle cx="181.44" cy="1048.25" r="6.88" fill="url(#pg)" opacity="0.75"/>
<circle cx="201.6" cy="1048.25" r="9.38" fill="url(#pg)" opacity="1"/>
<circle cx="217.11" cy="1048.87" r="5" fill="url(#pg)" opacity="0.3"/>
<circle cx="232.62" cy="1048.87" r="6.25" fill="url(#pg)" opacity="0.6"/>
<circle cx="248.12" cy="1045.77" r="7.5" fill="url(#pg)" opacity="0.8"/>
<circle cx="268.28" cy="1050.43" r="8.12" fill="url(#pg)" opacity="0.9"/>
<circle cx="282.24" cy="1048.25" r="5" fill="url(#pg)" opacity="0.3"/>
<circle cx="296.2" cy="1045.15" r="6.88" fill="url(#pg)" opacity="0.7"/>
<circle cx="316.36" cy="1047.32" r="10.62" fill="url(#pg)" opacity="1"/>
<circle cx="344.27" cy="1045.77" r="10" fill="url(#pg)" opacity="1"/>
<circle cx="356.68" cy="1042.05" r="6.25" fill="url(#pg)" opacity="0.6"/>
<circle cx="372.19" cy="1045.15" r="5" fill="url(#pg)" opacity="0.3"/>
<circle cx="404.75" cy="1044.22" r="7.5" fill="url(#pg)" opacity="0.85"/>
<circle cx="429.56" cy="1041.43" r="8.12" fill="url(#pg)" opacity="1"/>
<circle cx="446.62" cy="1042.05" r="5" fill="url(#pg)" opacity="0.3"/>
<circle cx="462.13" cy="1041.12" r="6.88" fill="url(#pg)" opacity="0.75"/>
<circle cx="480.74" cy="1044.84" r="8.12" fill="url(#pg)" opacity="0.9"/>
<circle cx="505.55" cy="1038.02" r="6.25" fill="url(#pg)" opacity="0.45"/>
<circle cx="165.93" cy="1045.77" r="5.62" fill="url(#pg)" opacity="0.4"/>
<circle cx="381.49" cy="1045.77" r="5.62" fill="url(#pg)" opacity="0.35"/>
<circle cx="533.47" cy="1042.67" r="5" fill="url(#pg)" opacity="0.35"/>
<circle cx="564.48" cy="1038.02" r="5" fill="url(#pg)" opacity="0.35"/>
</g></g>
<text x="113.6" y="763.8" font-size="29.3" fill="#fff">wild type</text>
<text x="113.6" y="829" font-size="29.3" fill="#fff"><tspan font-style="italic">ulp-4(lf)</tspan></text>
<text x="113.6" y="893.2" font-size="29.3" fill="#fff"><tspan font-style="italic">ulp-4(lf) +</tspan><tspan dx="5.5">Pan-neuronal</tspan></text>
<text x="113.6" y="964" font-size="29.3" fill="#fff"><tspan font-style="italic">ulp-4(lf) +</tspan><tspan dx="5.5">GABA</tspan></text>
<text x="113.6" y="1031.8" font-size="29.3" fill="#fff"><tspan font-style="italic">ulp-4(lf) +</tspan><tspan dx="5.5">Intestine</tspan></text>
<text x="113.6" y="1101" font-size="29.3" fill="#fff"><tspan font-style="italic">ulp-4(lf); dve-1K327R</tspan></text>
<text x="111" y="1176" font-size="29.3"><tspan fill="#1c9a1c">iAChR</tspan><tspan dx="4.8">L4 stage</tspan></text>
<line x1="448.8" y1="1160.2" x2="577.5" y2="1160.2" stroke="#000" stroke-width="5.5" />
</g>
<g>
<text x="632" y="669.6" font-size="62">e</text>
<text x="1039.7" y="685" font-size="25.8" text-anchor="middle">ULP-4 rescue</text>
<rect x="938.7" y="685.9" width="286.3" height="436.4" fill="#ffebb6" />
<text transform="translate(701.4,918.5) rotate(-90)" font-size="30.05" text-anchor="middle">Dorsal iAChR removal (%)</text>
<rect x="793.5" y="766.2" width="53.7" height="356.1" fill="#616161" />
<rect x="871.7" y="945.5" width="53.3" height="176.8" fill="#76f9d6" />
<rect x="944.3" y="831" width="53.7" height="291.3" fill="#b39ddb" />
<rect x="1016.2" y="826" width="53.8" height="296.3" fill="#ff9191" />
<rect x="1085.7" y="1037" width="53.3" height="85.3" fill="#34d977" />
<rect x="1154" y="765.6" width="53.3" height="356.7" fill="#fdcb8b" />
<text x="820" y="1095" font-size="21.5" text-anchor="middle">45</text>
<text x="898.4" y="1095" font-size="21.5" text-anchor="middle">40</text>
<text x="970.6" y="1095" font-size="21.5" text-anchor="middle">20</text>
<text x="1043" y="1095" font-size="21.5" text-anchor="middle">20</text>
<text x="1114" y="1095" font-size="21.5" text-anchor="middle">15</text>
<text x="1180.3" y="1095" font-size="21.5" text-anchor="middle">30</text>
<line x1="777.4" y1="761.53" x2="777.4" y2="1123.55" stroke="#000" stroke-width="2.5" />
<line x1="770" y1="1122.3" x2="1228.4" y2="1122.3" stroke="#000" stroke-width="4" />
<line x1="762.5" y1="1122.3" x2="777.4" y2="1122.3" stroke="#000" stroke-width="2.5" />
<text x="757.5" y="1132.1" font-size="26.2" text-anchor="end">0</text>
<line x1="762.5" y1="1032.42" x2="777.4" y2="1032.42" stroke="#000" stroke-width="2.5" />
<text x="752.7" y="1038.82" font-size="26.2" text-anchor="end">25</text>
<line x1="762.5" y1="942.54" x2="777.4" y2="942.54" stroke="#000" stroke-width="2.5" />
<text x="757.2" y="944.74" font-size="26.2" text-anchor="end">50</text>
<line x1="762.5" y1="852.66" x2="777.4" y2="852.66" stroke="#000" stroke-width="2.5" />
<text x="751.9" y="863.66" font-size="26.2" text-anchor="end">75</text>
<line x1="762.5" y1="762.78" x2="777.4" y2="762.78" stroke="#000" stroke-width="2.5" />
<text x="757.8" y="772.58" font-size="26.2" text-anchor="end">100</text>
<line x1="819.3" y1="1122.3" x2="819.3" y2="1134.3" stroke="#000" stroke-width="4" />
<line x1="898" y1="1122.3" x2="898" y2="1134.3" stroke="#000" stroke-width="4" />
<line x1="967.2" y1="1122.3" x2="967.2" y2="1134.3" stroke="#000" stroke-width="4" />
<line x1="1044.2" y1="1122.3" x2="1044.2" y2="1134.3" stroke="#000" stroke-width="4" />
<line x1="1111.5" y1="1122.3" x2="1111.5" y2="1134.3" stroke="#000" stroke-width="4" />
<line x1="1181.6" y1="1122.3" x2="1181.6" y2="1134.3" stroke="#000" stroke-width="4" />
<path d="M818.3 750 V722.5 H890.6 L891.9 896.8" stroke="#000" stroke-width="2.6" fill="none" />
<path d="M903.6 750.7 V696.8 H1181.6 V715.4" stroke="#000" stroke-width="2.6" fill="none" />
<path d="M903.6 706.4 H1105.9 V724.4" stroke="#000" stroke-width="2.6" fill="none" />
<path d="M903.6 716.3 H1046.3 V735" stroke="#000" stroke-width="2.6" fill="none" />
<path d="M903.6 723.1 H971 V744" stroke="#000" stroke-width="2.6" fill="none" />
<text x="970.3" y="767.6" font-size="27" text-anchor="middle">*</text>
<text x="1045.7" y="761.6" font-size="27" text-anchor="middle">*</text>
<text x="1105.3" y="741.7" font-size="22" text-anchor="middle">ns</text>
<text x="1181.5" y="762.8" font-size="27.4" text-anchor="middle">****</text>
<text x="898.3" y="932.8" font-size="27.6" text-anchor="middle">****</text>
<text transform="translate(828.5,1149.5) rotate(-45)" font-size="27" text-anchor="end">wild type</text>
<text transform="translate(976.5,1149.5) rotate(-45)" font-size="27" text-anchor="end">panneuronal</text>
<text transform="translate(1053.5,1149.5) rotate(-45)" font-size="27" text-anchor="end">GABA</text>
<text transform="translate(1120.5,1149.5) rotate(-45)" font-size="27" text-anchor="end">intestinal</text>
<text transform="translate(1190.5,1149.5) rotate(-45)" font-size="27" text-anchor="end" font-style="italic">dve-1(K327R)</text>
<line x1="849.4" y1="1306.5" x2="1222.5" y2="1306.5" stroke="#000" stroke-width="5" />
<text x="1019.2" y="1345" font-size="28.8" text-anchor="middle" font-style="italic">ulp-4(lf)</text>
</g>
<g>
<text x="1295" y="668.4" font-size="62">f</text>
<text x="1731.3" y="650" font-size="24.7" text-anchor="middle">ULP-4 rescue</text>
<rect x="1604.4" y="822.7" width="306.8" height="349.4" fill="#ffebb6" />
<text transform="translate(1298.7,979.2) rotate(-90)" font-size="31.3" text-anchor="middle">fluorescence intensity/25 <tspan font-style="italic">µ</tspan>m</text>
<text transform="translate(1331,978) rotate(-90)" font-size="30.7" text-anchor="middle">(arb. units)</text>
<rect x="1468.3" y="1122.2" width="41.4" height="49.9" fill="#808080" />
<rect x="1527.5" y="1022" width="51.4" height="150.1" fill="#76f9d6" />
<rect x="1613.3" y="1105.5" width="50.7" height="66.6" fill="#b39ddb" />
<rect x="1697.7" y="1101.8" width="51.4" height="70.3" fill="#ff9191" />
<rect x="1782.8" y="987.1" width="51.4" height="185" fill="#34d977" />
<rect x="1850.1" y="1097.4" width="51.1" height="74.7" fill="#fdcb8b" />
<line x1="1489.4" y1="1108.1" x2="1489.4" y2="1132.5" stroke="#000" stroke-width="2.5" />
<line x1="1478.4" y1="1108.1" x2="1500.4" y2="1108.1" stroke="#000" stroke-width="2.5" />
<line x1="1478.4" y1="1132.5" x2="1500.4" y2="1132.5" stroke="#000" stroke-width="2.5" />
<line x1="1553.4" y1="1002" x2="1553.4" y2="1036.3" stroke="#000" stroke-width="2.5" />
<line x1="1538.4" y1="1002" x2="1568.4" y2="1002" stroke="#000" stroke-width="2.5" />
<line x1="1538.4" y1="1036.3" x2="1568.4" y2="1036.3" stroke="#000" stroke-width="2.5" />
<line x1="1638.1" y1="1087" x2="1638.1" y2="1118.5" stroke="#000" stroke-width="2.5" />
<line x1="1623.6" y1="1087" x2="1652.6" y2="1087" stroke="#000" stroke-width="2.5" />
<line x1="1623.6" y1="1118.5" x2="1652.6" y2="1118.5" stroke="#000" stroke-width="2.5" />
<line x1="1723.2" y1="1082.6" x2="1723.2" y2="1114.8" stroke="#000" stroke-width="2.5" />
<line x1="1708.2" y1="1082.6" x2="1738.2" y2="1082.6" stroke="#000" stroke-width="2.5" />
<line x1="1708.2" y1="1114.8" x2="1738.2" y2="1114.8" stroke="#000" stroke-width="2.5" />
<line x1="1808.3" y1="957.5" x2="1808.3" y2="1010.4" stroke="#000" stroke-width="2.5" />
<line x1="1792.8" y1="957.5" x2="1823.8" y2="957.5" stroke="#000" stroke-width="2.5" />
<line x1="1792.8" y1="1010.4" x2="1823.8" y2="1010.4" stroke="#000" stroke-width="2.5" />
<line x1="1874.9" y1="1088.9" x2="1874.9" y2="1103" stroke="#000" stroke-width="2.5" />
<line x1="1860.9" y1="1088.9" x2="1888.9" y2="1088.9" stroke="#000" stroke-width="2.5" />
<line x1="1860.9" y1="1103" x2="1888.9" y2="1103" stroke="#000" stroke-width="2.5" />
<circle cx="1488.66" cy="1022.3" r="7.8" fill="#000" />
<circle cx="1488.66" cy="1092.6" r="7.8" fill="#000" />
<circle cx="1472.75" cy="1103.7" r="7.8" fill="#000" />
<circle cx="1504.94" cy="1112.95" r="7.8" fill="#000" />
<circle cx="1472.75" cy="1122.2" r="7.8" fill="#000" />
<circle cx="1488.66" cy="1130.34" r="7.8" fill="#000" />
<circle cx="1504.94" cy="1134.04" r="7.8" fill="#000" />
<circle cx="1472.75" cy="1140.7" r="7.8" fill="#000" />
<circle cx="1488.66" cy="1147.36" r="7.8" fill="#000" />
<circle cx="1504.94" cy="1152.91" r="7.8" fill="#000" />
<circle cx="1472.75" cy="1162.9" r="7.8" fill="#000" />
<circle cx="1532.69" cy="916.85" r="7.8" fill="#000" />
<circle cx="1574.5" cy="916.85" r="7.8" fill="#000" />
<circle cx="1546.75" cy="930.54" r="7.8" fill="#000" />
<circle cx="1560.44" cy="930.54" r="7.8" fill="#000" />
<circle cx="1546.75" cy="963.84" r="7.8" fill="#000" />
<circle cx="1560.44" cy="961.25" r="7.8" fill="#000" />
<circle cx="1560.44" cy="1001.95" r="7.8" fill="#000" />
<circle cx="1532.69" cy="1016.75" r="7.8" fill="#000" />
<circle cx="1560.44" cy="1018.6" r="7.8" fill="#000" />
<circle cx="1546.75" cy="1027.85" r="7.8" fill="#000" />
<circle cx="1532.69" cy="1037.1" r="7.8" fill="#000" />
<circle cx="1546.75" cy="1048.2" r="7.8" fill="#000" />
<circle cx="1560.44" cy="1046.35" r="7.8" fill="#000" />
<circle cx="1560.44" cy="1079.65" r="7.8" fill="#000" />
<circle cx="1574.5" cy="1080.39" r="7.8" fill="#000" />
<circle cx="1546.75" cy="1090.01" r="7.8" fill="#000" />
<circle cx="1560.44" cy="1095.56" r="7.8" fill="#000" />
<circle cx="1546.75" cy="1121.46" r="7.8" fill="#000" />
<circle cx="1560.44" cy="1124.05" r="7.8" fill="#000" />
<circle cx="1553.41" cy="1145.14" r="7.8" fill="#000" />
<circle cx="1638.14" cy="957.55" r="7.8" fill="#000" />
<circle cx="1638.14" cy="1027.11" r="7.8" fill="#000" />
<circle cx="1648.5" cy="1084.46" r="7.8" fill="#000" />
<circle cx="1628.15" cy="1089.64" r="7.8" fill="#000" />
<circle cx="1638.14" cy="1104.44" r="7.8" fill="#000" />
<circle cx="1617.05" cy="1110.36" r="7.8" fill="#000" />
<circle cx="1659.6" cy="1113.69" r="7.8" fill="#000" />
<circle cx="1617.05" cy="1126.64" r="7.8" fill="#000" />
<circle cx="1638.14" cy="1132.19" r="7.8" fill="#000" />
<circle cx="1659.6" cy="1132.19" r="7.8" fill="#000" />
<circle cx="1617.05" cy="1154.76" r="7.8" fill="#000" />
<circle cx="1638.14" cy="1151.8" r="7.8" fill="#000" />
<circle cx="1659.6" cy="1152.91" r="7.8" fill="#000" />
<circle cx="1723.24" cy="1001.95" r="7.8" fill="#000" />
<circle cx="1723.24" cy="1028.59" r="7.8" fill="#000" />
<circle cx="1702.89" cy="1053.75" r="7.8" fill="#000" />
<circle cx="1723.24" cy="1059.3" r="7.8" fill="#000" />
<circle cx="1744.7" cy="1111.84" r="7.8" fill="#000" />
<circle cx="1723.24" cy="1122.2" r="7.8" fill="#000" />
<circle cx="1702.89" cy="1135.15" r="7.8" fill="#000" />
<circle cx="1744.7" cy="1130.34" r="7.8" fill="#000" />
<circle cx="1723.24" cy="1140.7" r="7.8" fill="#000" />
<circle cx="1744.7" cy="1148.1" r="7.8" fill="#000" />
<circle cx="1702.89" cy="1158.09" r="7.8" fill="#000" />
<circle cx="1808.34" cy="932.76" r="7.8" fill="#000" />
<circle cx="1829.8" cy="927.95" r="7.8" fill="#000" />
<circle cx="1808.34" cy="965.69" r="7.8" fill="#000" />
<circle cx="1808.34" cy="997.14" r="7.8" fill="#000" />
<circle cx="1787.25" cy="1047.09" r="7.8" fill="#000" />
<circle cx="1808.34" cy="1054.86" r="7.8" fill="#000" />
<circle cx="1829.8" cy="1050.42" r="7.8" fill="#000" />
<circle cx="1808.34" cy="1122.94" r="7.8" fill="#000" />
<circle cx="1871.61" cy="1047.09" r="7.8" fill="#000" />
<circle cx="1884.56" cy="1058.56" r="7.8" fill="#000" />
<circle cx="1871.61" cy="1067.44" r="7.8" fill="#000" />
<circle cx="1877.9" cy="1068.55" r="7.8" fill="#000" />
<circle cx="1859.4" cy="1085.2" r="7.8" fill="#000" />
<circle cx="1871.61" cy="1092.6" r="7.8" fill="#000" />
<circle cx="1884.56" cy="1091.86" r="7.8" fill="#000" />
<circle cx="1890.85" cy="1098.15" r="7.8" fill="#000" />
<circle cx="1859.4" cy="1107.4" r="7.8" fill="#000" />
<circle cx="1871.61" cy="1112.95" r="7.8" fill="#000" />
<circle cx="1877.9" cy="1111.1" r="7.8" fill="#000" />
<circle cx="1859.4" cy="1121.46" r="7.8" fill="#000" />
<circle cx="1871.61" cy="1122.2" r="7.8" fill="#000" />
<circle cx="1884.56" cy="1122.94" r="7.8" fill="#000" />
<circle cx="1890.85" cy="1120.35" r="7.8" fill="#000" />
<circle cx="1865.32" cy="1100" r="7.8" fill="#000" />
<circle cx="1553.41" cy="858.26" r="7.8" fill="#000" />
<circle cx="1808.34" cy="864.55" r="7.8" fill="#000" />
<circle cx="1808.34" cy="884.16" r="7.8" fill="#000" />
<line x1="1443.9" y1="800.37" x2="1443.9" y2="1173.35" stroke="#000" stroke-width="2.5" />
<line x1="1428.3" y1="1172.1" x2="1914" y2="1172.1" stroke="#000" stroke-width="2.8" />
<line x1="1428.3" y1="1172.1" x2="1443.9" y2="1172.1" stroke="#000" stroke-width="2.5" />
<text x="1422.6" y="1182.4" font-size="24.9" text-anchor="end">0</text>
<line x1="1428.3" y1="1079.48" x2="1443.9" y2="1079.48" stroke="#000" stroke-width="2.5" />
<text x="1422.6" y="1089.78" font-size="24.9" text-anchor="end">10000</text>
<line x1="1428.3" y1="986.86" x2="1443.9" y2="986.86" stroke="#000" stroke-width="2.5" />
<text x="1422.6" y="997.16" font-size="24.9" text-anchor="end">20000</text>
<line x1="1428.3" y1="894.24" x2="1443.9" y2="894.24" stroke="#000" stroke-width="2.5" />
<text x="1422.6" y="904.54" font-size="24.9" text-anchor="end">30000</text>
<line x1="1428.3" y1="801.62" x2="1443.9" y2="801.62" stroke="#000" stroke-width="2.5" />
<text x="1422.6" y="811.92" font-size="24.9" text-anchor="end">40000</text>
<line x1="1483.8" y1="1172.1" x2="1483.8" y2="1185.1" stroke="#000" stroke-width="2.5" />
<line x1="1551.5" y1="1172.1" x2="1551.5" y2="1185.1" stroke="#000" stroke-width="2.5" />
<line x1="1637.4" y1="1172.1" x2="1637.4" y2="1185.1" stroke="#000" stroke-width="2.5" />
<line x1="1723.2" y1="1172.1" x2="1723.2" y2="1185.1" stroke="#000" stroke-width="2.5" />
<line x1="1807.5" y1="1172.1" x2="1807.5" y2="1185.1" stroke="#000" stroke-width="2.5" />
<line x1="1874.9" y1="1172.1" x2="1874.9" y2="1185.1" stroke="#000" stroke-width="2.5" />
<text x="1488.3" y="1003.3" font-size="23" text-anchor="middle">(11)</text>
<text x="1552.3" y="844.6" font-size="23" text-anchor="middle">(21)</text>
<text x="1636.6" y="931" font-size="23" text-anchor="middle">(13)</text>
<text x="1721" y="974.5" font-size="23" text-anchor="middle">(11)</text>
<text x="1808.7" y="846.5" font-size="23" text-anchor="middle">(10)</text>
<text x="1871.6" y="1019.5" font-size="23" text-anchor="middle">(16)</text>
<path d="M1488.3 790.5 V695.5 H1798.3 V710.3" stroke="#000" stroke-width="2.7" fill="none" />
<path d="M1558.9 741.7 V715.8 H1869.3 V810.1" stroke="#000" stroke-width="2.7" fill="none" />
<path d="M1554.9 757.2 V747.2 H1716.9 V769" stroke="#000" stroke-width="2.7" fill="none" />
<path d="M1644.8 877.5 V790.2 H1805.7 V796.8" stroke="#000" stroke-width="2.7" fill="none" />
<path d="M1489.4 973.7 V809 H1548.6 V820" stroke="#000" stroke-width="2.7" fill="none" />
<path d="M1552.3 820 V808.3 H1635.5 V902.6" stroke="#000" stroke-width="2.7" fill="none" />
<path d="M1723.2 944 V815.3 H1804.6 V822.7" stroke="#000" stroke-width="2.7" fill="none" />
<path d="M1808.3 822.7 V814.6 H1870.5 L1872.3 992.2" stroke="#000" stroke-width="2.7" fill="none" />
<text x="1647.85" y="697.3" font-size="29.2" text-anchor="middle" letter-spacing="2.5">****</text>
<text x="1713.25" y="718.1" font-size="29.2" text-anchor="middle" letter-spacing="2.5">**</text>
<text x="1627.55" y="752.9" font-size="29.2" text-anchor="middle" letter-spacing="2.5">**</text>
<text x="1723.75" y="794.7" font-size="29.2" text-anchor="middle" letter-spacing="2.5">***</text>
<text x="1520.25" y="810.6" font-size="29.2" text-anchor="middle" letter-spacing="2.5">***</text>
<text x="1593.15" y="810.6" font-size="29.2" text-anchor="middle" letter-spacing="2.5">**</text>
<text x="1758.85" y="817.6" font-size="29.2" text-anchor="middle" letter-spacing="2.5">***</text>
<text x="1840.25" y="818.7" font-size="29.2" text-anchor="middle" letter-spacing="2.5">***</text>
<text transform="translate(1493.5,1204.5) rotate(-45)" font-size="26.5" text-anchor="end">wild type</text>
<text transform="translate(1647.5,1204.5) rotate(-45)" font-size="26.5" text-anchor="end">pan-neuronal</text>
<text transform="translate(1732.5,1204.5) rotate(-45)" font-size="26.5" text-anchor="end">GABA</text>
<text transform="translate(1817.5,1204.5) rotate(-45)" font-size="26.5" text-anchor="end">intestinal</text>
<text transform="translate(1884.5,1204.5) rotate(-45)" font-size="26.5" text-anchor="end" font-style="italic">dve-1(K327R)</text>
<line x1="1597.4" y1="1346.8" x2="1911.9" y2="1346.8" stroke="#000" stroke-width="4.5" />
<text x="1748.7" y="1377.5" font-size="27.5" text-anchor="middle" font-style="italic">ulp-4(lf)</text>
</g>
</svg>
</body>
</html>
